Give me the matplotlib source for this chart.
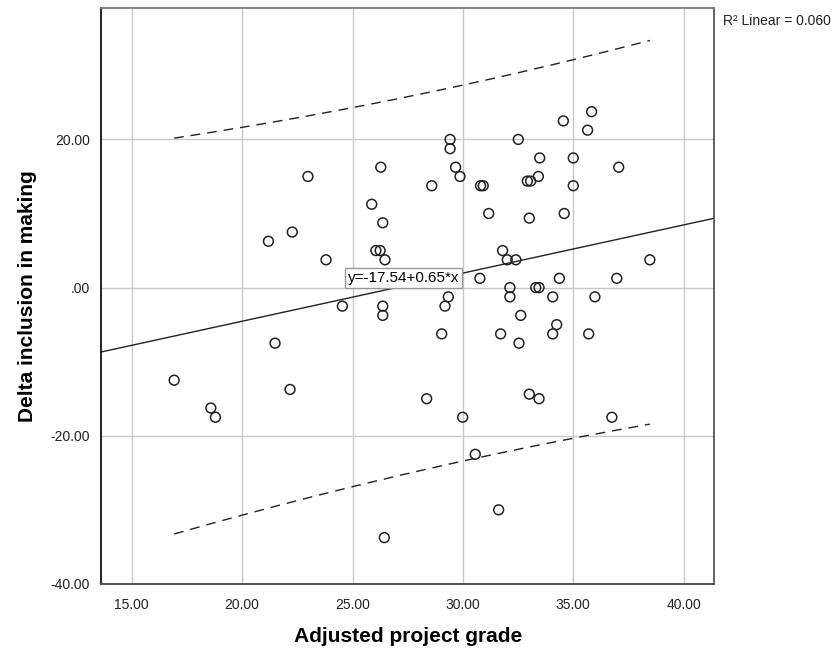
import numpy as np
import matplotlib
matplotlib.use('Agg')
import matplotlib.pyplot as plt

plt.rcParams['font.family'] = ['Liberation Sans', 'DejaVu Sans']

# project grade vs change in inclusion, one point per student
grade = [29.42, 29.42, 29.67, 29.87, 28.59, 26.28, 22.98, 25.87, 26.37, 22.27,
         21.19, 23.80, 26.06, 26.25, 26.47, 24.54, 26.37, 26.37, 29.19, 29.34,
         35.83, 34.55, 35.65, 32.51, 33.48, 35.00, 37.06, 30.80, 30.92, 32.92,
         33.07, 33.42, 35.00, 31.17, 33.01, 34.59, 31.80, 32.01, 32.40, 38.47,
         30.77, 34.37, 36.97, 32.13, 32.13, 33.30, 33.45, 34.07, 35.98, 32.62,
         34.25, 29.04, 31.71, 34.07, 35.70, 32.54, 33.01, 33.45, 29.99, 36.75,
         30.56, 31.62, 21.49, 16.92, 22.17, 28.36, 18.58, 18.79, 26.44]
delta = [20.00, 18.75, 16.25, 15.00, 13.75, 16.25, 15.00, 11.25, 8.75, 7.50,
         6.25, 3.75, 5.00, 5.00, 3.75, -2.50, -2.50, -3.75, -2.50, -1.25,
         23.75, 22.50, 21.25, 20.00, 17.50, 17.50, 16.25, 13.75, 13.75, 14.38,
         14.38, 15.00, 13.75, 10.00, 9.38, 10.00, 5.00, 3.75, 3.75, 3.75,
         1.25, 1.25, 1.25, 0.00, -1.25, 0.00, 0.00, -1.25, -1.25, -3.75,
         -5.00, -6.25, -6.25, -6.25, -6.25, -7.50, -14.38, -15.00, -17.50, -17.50,
         -22.50, -30.00, -7.50, -12.50, -13.75, -15.00, -16.25, -17.50, -33.75]

intercept = -17.54
slope = 0.65
r2 = 0.060

x = np.array(grade)
y = np.array(delta)
n = len(x)

# 95% prediction band around the fitted line
resid = y - (intercept + slope * x)
s = np.sqrt(np.sum(resid ** 2) / (n - 2))
sxx = np.sum((x - x.mean()) ** 2)
t_crit = 1.99
xs = np.linspace(x.min(), x.max(), 200)
fit = intercept + slope * xs
half = t_crit * s * np.sqrt(1 + 1 / n + (xs - x.mean()) ** 2 / sxx)

fig = plt.figure(figsize=(8.38, 6.49), dpi=100)
ax = fig.add_axes([0.1209, 0.0997, 0.7315, 0.8875])

ax.grid(True, color='#c8c8c8', linewidth=1.0)
ax.set_axisbelow(True)

ax.scatter(x, y, s=50, facecolors='none', edgecolors='#222222',
           linewidths=1.1, zorder=3)

xl = np.array([13.62, 41.39])
ax.plot(xl, intercept + slope * xl, color='#222222', linewidth=1.0, zorder=2)
ax.plot(xs, fit + half, color='#222222', linewidth=1.0,
        dashes=(7, 5), zorder=2)
ax.plot(xs, fit - half, color='#222222', linewidth=1.0,
        dashes=(7, 5), zorder=2)

ax.text(24.78, 1.25, 'y=%.2f+%.2f*x' % (intercept, slope), fontsize=11,
        va='center', ha='left', zorder=4,
        bbox=dict(boxstyle='square,pad=0.2', facecolor='white',
                  edgecolor='#999999', linewidth=1.0))

ax.set_xlim(13.62, 41.39)
ax.set_ylim(-40.05, 37.7)
ax.set_xticks([15, 20, 25, 30, 35, 40])
ax.set_xticklabels(['15.00', '20.00', '25.00', '30.00', '35.00', '40.00'])
ax.set_yticks([-40, -20, 0, 20])
ax.set_yticklabels(['-40.00', '-20.00', '.00', '20.00'])
ax.tick_params(length=0, labelsize=10, colors='#222222')
ax.tick_params(axis='x', pad=10)
ax.tick_params(axis='y', pad=8)

ax.spines['left'].set_color('#111111')
ax.spines['bottom'].set_color('#444444')
ax.spines['top'].set_color('#777777')
ax.spines['right'].set_color('#555555')
for sp in ax.spines.values():
    sp.set_linewidth(1.3)

ax.set_xlabel('Adjusted project grade', fontsize=15, fontweight='bold',
              labelpad=11)
ax.set_ylabel('Delta inclusion in making', fontsize=15, fontweight='bold',
              labelpad=10)

fig.text(0.8625, 0.968, 'R\u00b2 Linear = %.3f' % r2, fontsize=10,
         ha='left', va='center', color='#222222')

fig.savefig('out.png', dpi=100)
